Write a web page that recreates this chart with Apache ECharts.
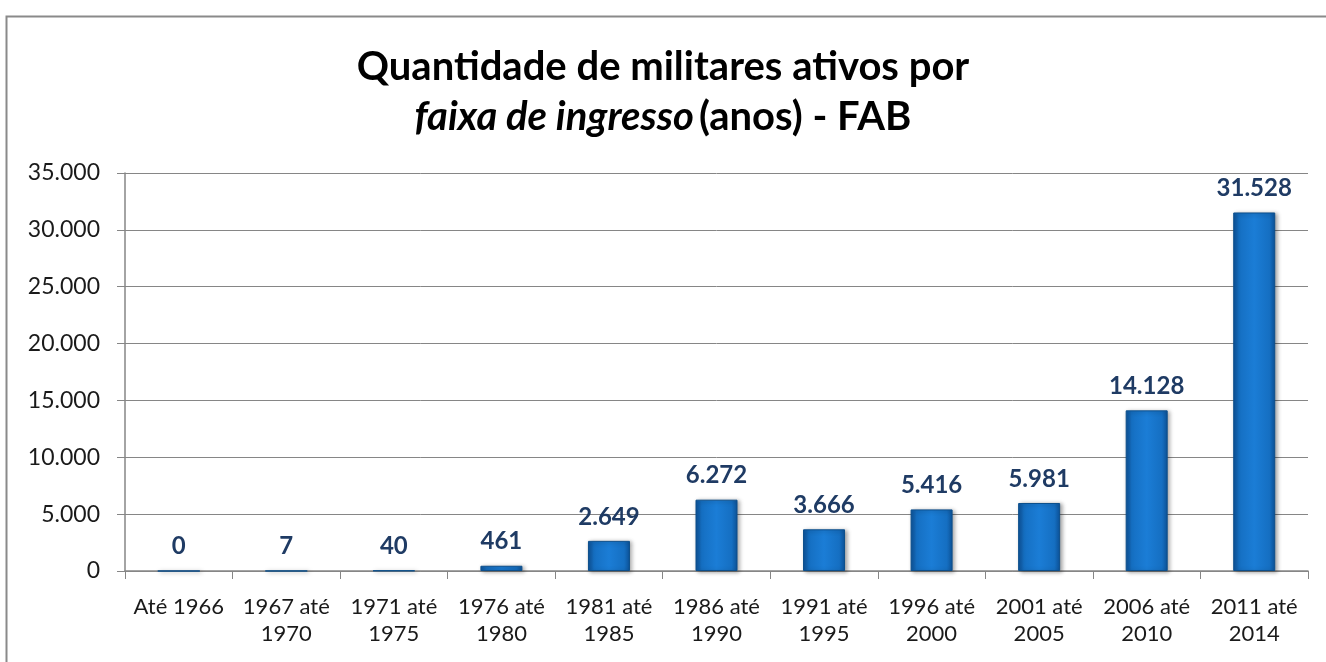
<!DOCTYPE html>
<html>
<head>
<meta charset="utf-8">
<script src="https://cdn.jsdelivr.net/npm/echarts@6/dist/echarts.min.js"></script>
<style>
  html, body { margin: 0; padding: 0; background: #ffffff; }
  #chart { width: 1326px; height: 662px; }
</style>
</head>
<body>
<div id="chart"></div>
<script>
// Intake period ranges (years) and number of active personnel in each
const categories = [
  'Até 1966', '1967 até\n1970', '1971 até\n1975', '1976 até\n1980',
  '1981 até\n1985', '1986 até\n1990', '1991 até\n1995', '1996 até\n2000',
  '2001 até\n2005', '2006 até\n2010', '2011 até\n2014'
];
const militares = [0, 7, 40, 461, 2649, 6272, 3666, 5416, 5981, 14128, 31528];

const yMin = 0;
const yMax = 35000;
const yStep = 5000;

// Brazilian number formatting: thousands separated by '.'
function fmt(v) {
  return String(Math.round(v)).replace(/\B(?=(\d{3})+(?!\d))/g, '.');
}

const chart = echarts.init(document.getElementById('chart'));

// cylindrical shading across the bar width
const barFill = new echarts.graphic.LinearGradient(0, 0, 1, 0, [
  { offset: 0, color: '#0d5399' },
  { offset: 0.14, color: '#156fc2' },
  { offset: 0.5, color: '#1b7dd6' },
  { offset: 0.86, color: '#156fc2' },
  { offset: 1, color: '#0d5399' }
]);

chart.setOption({
  backgroundColor: '#ffffff',
  animation: false,
  graphic: [{
    type: 'rect',
    left: 4, top: 14,
    shape: { width: 1340, height: 700 },
    style: { fill: 'none', stroke: '#8a8a8a', lineWidth: 2 },
    silent: true,
    z: -10
  }],
  title: {
    text: '{n|Quantidade de militares ativos por}\n{i|faixa de ingresso} {n|(anos) - FAB}',
    left: 'center',
    top: 37,
    textStyle: {
      rich: {
        n: { fontFamily: 'Lato', fontSize: 40, fontWeight: 'bold', color: '#000', lineHeight: 50 },
        i: { fontFamily: 'Lato', fontSize: 40, fontWeight: 'bold', fontStyle: 'italic', color: '#000', lineHeight: 50 }
      }
    }
  },
  grid: { left: 125, right: 18, top: 173, bottom: 91 },
  xAxis: {
    type: 'category',
    data: categories,
    axisLine: { show: true, lineStyle: { color: '#868686', width: 1.5 } },
    axisTick: { show: true, length: 8, lineStyle: { color: '#868686' } },
    axisLabel: {
      interval: 0,
      margin: 22,
      fontFamily: 'Lato',
      fontSize: 22,
      lineHeight: 27,
      color: '#1a1a1a'
    }
  },
  yAxis: {
    type: 'value',
    min: yMin,
    max: yMax,
    interval: yStep,
    axisLine: { show: true, lineStyle: { color: '#868686', width: 1.5 } },
    axisTick: { show: true, length: 8, lineStyle: { color: '#868686' } },
    splitLine: { show: true, lineStyle: { color: '#868686', width: 1 } },
    axisLabel: {
      margin: 25,
      fontFamily: 'Lato',
      fontSize: 23,
      color: '#1a1a1a',
      formatter: fmt
    }
  },
  series: [{
    type: 'bar',
    data: militares,
    barWidth: 42,
    itemStyle: {
      color: barFill,
      borderColor: '#0c4f8c',
      borderWidth: 1,
      shadowColor: 'rgba(0,0,0,0.35)',
      shadowBlur: 4,
      shadowOffsetX: 2,
      shadowOffsetY: 1
    },
    label: {
      show: true,
      position: 'top',
      distance: 12,
      fontFamily: 'Lato',
      fontSize: 24,
      fontWeight: 'bold',
      color: '#1f3b64',
      formatter: p => fmt(p.value)
    }
  }]
});
</script>
</body>
</html>
